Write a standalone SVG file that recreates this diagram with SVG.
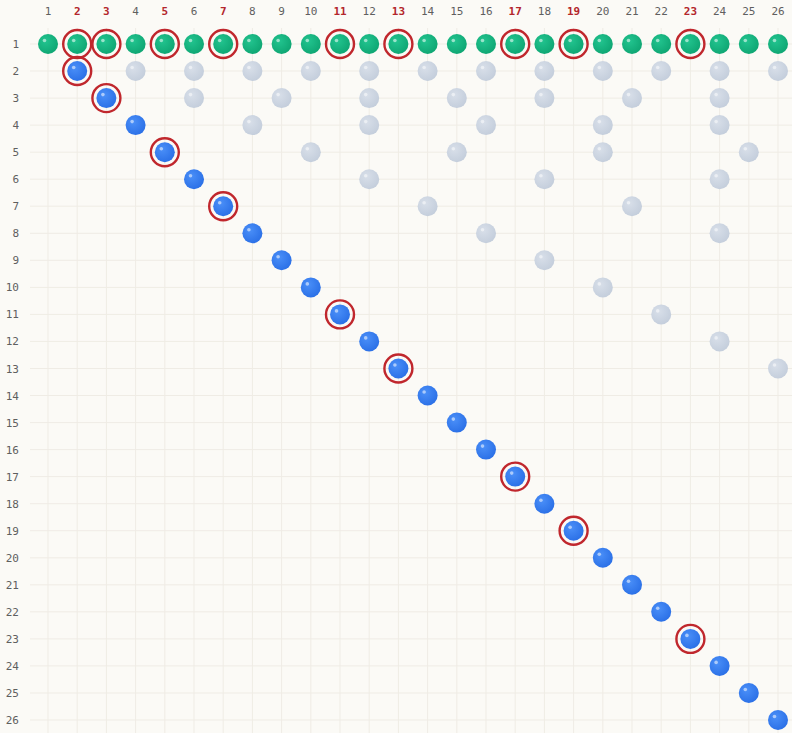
<svg xmlns="http://www.w3.org/2000/svg" xmlns:xlink="http://www.w3.org/1999/xlink" width="792" height="733" viewBox="0 0 792 733">
<defs>
<radialGradient id="gG" cx="0.38" cy="0.35" r="0.7"><stop offset="0" stop-color="#22c48f"/><stop offset="1" stop-color="#0ea572"/></radialGradient>
<radialGradient id="gB" cx="0.38" cy="0.35" r="0.7"><stop offset="0" stop-color="#4a8ff8"/><stop offset="1" stop-color="#2a6fe6"/></radialGradient>
<radialGradient id="gX" cx="0.38" cy="0.35" r="0.7"><stop offset="0" stop-color="#d8dfe9"/><stop offset="1" stop-color="#c3cddb"/></radialGradient>
<g id="dG"><circle r="10" fill="url(#gG)"/><circle cx="-3.5" cy="-3.5" r="1.8" fill="#fff" opacity="0.55"/></g>
<g id="dB"><circle r="10" fill="url(#gB)"/><circle cx="-3.5" cy="-3.5" r="1.8" fill="#fff" opacity="0.55"/></g>
<g id="dX"><circle r="10" fill="url(#gX)"/><circle cx="-3.5" cy="-3.5" r="1.8" fill="#fff" opacity="0.5"/></g>
<circle id="ring" r="14" fill="none" stroke="#c0272d" stroke-width="2.4"/>
</defs>
<style>
.lbl{font-family:"DejaVu Sans Mono","Liberation Mono",monospace;font-size:11px;fill:#5f5f5f}
.hd{text-anchor:middle}
.rw{text-anchor:end}
.pr{fill:#b3262b;font-weight:bold}
.grid line{stroke:#efece5;stroke-width:1}
</style>
<rect width="792" height="733" fill="#fbfaf6"/>
<g id="grid" class="grid">
<line x1="48" y1="28" x2="48" y2="733"/><line x1="77.2" y1="28" x2="77.2" y2="733"/><line x1="106.4" y1="28" x2="106.4" y2="733"/><line x1="135.6" y1="28" x2="135.6" y2="733"/><line x1="164.8" y1="28" x2="164.8" y2="733"/><line x1="194" y1="28" x2="194" y2="733"/><line x1="223.2" y1="28" x2="223.2" y2="733"/><line x1="252.4" y1="28" x2="252.4" y2="733"/><line x1="281.6" y1="28" x2="281.6" y2="733"/><line x1="310.8" y1="28" x2="310.8" y2="733"/><line x1="340" y1="28" x2="340" y2="733"/><line x1="369.2" y1="28" x2="369.2" y2="733"/><line x1="398.4" y1="28" x2="398.4" y2="733"/><line x1="427.6" y1="28" x2="427.6" y2="733"/><line x1="456.8" y1="28" x2="456.8" y2="733"/><line x1="486" y1="28" x2="486" y2="733"/><line x1="515.2" y1="28" x2="515.2" y2="733"/><line x1="544.4" y1="28" x2="544.4" y2="733"/><line x1="573.6" y1="28" x2="573.6" y2="733"/><line x1="602.8" y1="28" x2="602.8" y2="733"/><line x1="632" y1="28" x2="632" y2="733"/><line x1="661.2" y1="28" x2="661.2" y2="733"/><line x1="690.4" y1="28" x2="690.4" y2="733"/><line x1="719.6" y1="28" x2="719.6" y2="733"/><line x1="748.8" y1="28" x2="748.8" y2="733"/><line x1="778" y1="28" x2="778" y2="733"/>
<line x1="30" y1="44" x2="792" y2="44"/><line x1="30" y1="71" x2="792" y2="71"/><line x1="30" y1="98.1" x2="792" y2="98.1"/><line x1="30" y1="125.1" x2="792" y2="125.1"/><line x1="30" y1="152.2" x2="792" y2="152.2"/><line x1="30" y1="179.2" x2="792" y2="179.2"/><line x1="30" y1="206.2" x2="792" y2="206.2"/><line x1="30" y1="233.3" x2="792" y2="233.3"/><line x1="30" y1="260.3" x2="792" y2="260.3"/><line x1="30" y1="287.4" x2="792" y2="287.4"/><line x1="30" y1="314.4" x2="792" y2="314.4"/><line x1="30" y1="341.4" x2="792" y2="341.4"/><line x1="30" y1="368.5" x2="792" y2="368.5"/><line x1="30" y1="395.5" x2="792" y2="395.5"/><line x1="30" y1="422.6" x2="792" y2="422.6"/><line x1="30" y1="449.6" x2="792" y2="449.6"/><line x1="30" y1="476.6" x2="792" y2="476.6"/><line x1="30" y1="503.7" x2="792" y2="503.7"/><line x1="30" y1="530.7" x2="792" y2="530.7"/><line x1="30" y1="557.8" x2="792" y2="557.8"/><line x1="30" y1="584.8" x2="792" y2="584.8"/><line x1="30" y1="611.8" x2="792" y2="611.8"/><line x1="30" y1="638.9" x2="792" y2="638.9"/><line x1="30" y1="665.9" x2="792" y2="665.9"/><line x1="30" y1="693" x2="792" y2="693"/><line x1="30" y1="720" x2="792" y2="720"/>
</g>
<g id="col-labels" class="lbl hd">
<text x="48" y="15">1</text><text x="77.2" y="15" class="pr">2</text><text x="106.4" y="15" class="pr">3</text><text x="135.6" y="15">4</text><text x="164.8" y="15" class="pr">5</text><text x="194" y="15">6</text><text x="223.2" y="15" class="pr">7</text><text x="252.4" y="15">8</text><text x="281.6" y="15">9</text><text x="310.8" y="15">10</text><text x="340" y="15" class="pr">11</text><text x="369.2" y="15">12</text><text x="398.4" y="15" class="pr">13</text><text x="427.6" y="15">14</text><text x="456.8" y="15">15</text><text x="486" y="15">16</text><text x="515.2" y="15" class="pr">17</text><text x="544.4" y="15">18</text><text x="573.6" y="15" class="pr">19</text><text x="602.8" y="15">20</text><text x="632" y="15">21</text><text x="661.2" y="15">22</text><text x="690.4" y="15" class="pr">23</text><text x="719.6" y="15">24</text><text x="748.8" y="15">25</text><text x="778" y="15">26</text>
</g>
<g id="row-labels" class="lbl rw">
<text x="19" y="48">1</text><text x="19" y="75">2</text><text x="19" y="102.1">3</text><text x="19" y="129.1">4</text><text x="19" y="156.2">5</text><text x="19" y="183.2">6</text><text x="19" y="210.2">7</text><text x="19" y="237.3">8</text><text x="19" y="264.3">9</text><text x="19" y="291.4">10</text><text x="19" y="318.4">11</text><text x="19" y="345.4">12</text><text x="19" y="372.5">13</text><text x="19" y="399.5">14</text><text x="19" y="426.6">15</text><text x="19" y="453.6">16</text><text x="19" y="480.6">17</text><text x="19" y="507.7">18</text><text x="19" y="534.7">19</text><text x="19" y="561.8">20</text><text x="19" y="588.8">21</text><text x="19" y="615.8">22</text><text x="19" y="642.9">23</text><text x="19" y="669.9">24</text><text x="19" y="697">25</text><text x="19" y="724">26</text>
</g>
<g id="connectors"></g>
<g id="row1">
<g id="n1-1"><use href="#dG" x="48" y="44"/></g>
<g id="n1-2"><use href="#dG" x="77.2" y="44"/><use href="#ring" x="77.2" y="44"/></g>
<g id="n1-3"><use href="#dG" x="106.4" y="44"/><use href="#ring" x="106.4" y="44"/></g>
<g id="n1-4"><use href="#dG" x="135.6" y="44"/></g>
<g id="n1-5"><use href="#dG" x="164.8" y="44"/><use href="#ring" x="164.8" y="44"/></g>
<g id="n1-6"><use href="#dG" x="194" y="44"/></g>
<g id="n1-7"><use href="#dG" x="223.2" y="44"/><use href="#ring" x="223.2" y="44"/></g>
<g id="n1-8"><use href="#dG" x="252.4" y="44"/></g>
<g id="n1-9"><use href="#dG" x="281.6" y="44"/></g>
<g id="n1-10"><use href="#dG" x="310.8" y="44"/></g>
<g id="n1-11"><use href="#dG" x="340" y="44"/><use href="#ring" x="340" y="44"/></g>
<g id="n1-12"><use href="#dG" x="369.2" y="44"/></g>
<g id="n1-13"><use href="#dG" x="398.4" y="44"/><use href="#ring" x="398.4" y="44"/></g>
<g id="n1-14"><use href="#dG" x="427.6" y="44"/></g>
<g id="n1-15"><use href="#dG" x="456.8" y="44"/></g>
<g id="n1-16"><use href="#dG" x="486" y="44"/></g>
<g id="n1-17"><use href="#dG" x="515.2" y="44"/><use href="#ring" x="515.2" y="44"/></g>
<g id="n1-18"><use href="#dG" x="544.4" y="44"/></g>
<g id="n1-19"><use href="#dG" x="573.6" y="44"/><use href="#ring" x="573.6" y="44"/></g>
<g id="n1-20"><use href="#dG" x="602.8" y="44"/></g>
<g id="n1-21"><use href="#dG" x="632" y="44"/></g>
<g id="n1-22"><use href="#dG" x="661.2" y="44"/></g>
<g id="n1-23"><use href="#dG" x="690.4" y="44"/><use href="#ring" x="690.4" y="44"/></g>
<g id="n1-24"><use href="#dG" x="719.6" y="44"/></g>
<g id="n1-25"><use href="#dG" x="748.8" y="44"/></g>
<g id="n1-26"><use href="#dG" x="778" y="44"/></g>
</g>
<g id="diagonal">
<g id="n2-2"><use href="#dB" x="77.2" y="71"/><use href="#ring" x="77.2" y="71"/></g>
<g id="n3-3"><use href="#dB" x="106.4" y="98.1"/><use href="#ring" x="106.4" y="98.1"/></g>
<g id="n4-4"><use href="#dB" x="135.6" y="125.1"/></g>
<g id="n5-5"><use href="#dB" x="164.8" y="152.2"/><use href="#ring" x="164.8" y="152.2"/></g>
<g id="n6-6"><use href="#dB" x="194" y="179.2"/></g>
<g id="n7-7"><use href="#dB" x="223.2" y="206.2"/><use href="#ring" x="223.2" y="206.2"/></g>
<g id="n8-8"><use href="#dB" x="252.4" y="233.3"/></g>
<g id="n9-9"><use href="#dB" x="281.6" y="260.3"/></g>
<g id="n10-10"><use href="#dB" x="310.8" y="287.4"/></g>
<g id="n11-11"><use href="#dB" x="340" y="314.4"/><use href="#ring" x="340" y="314.4"/></g>
<g id="n12-12"><use href="#dB" x="369.2" y="341.4"/></g>
<g id="n13-13"><use href="#dB" x="398.4" y="368.5"/><use href="#ring" x="398.4" y="368.5"/></g>
<g id="n14-14"><use href="#dB" x="427.6" y="395.5"/></g>
<g id="n15-15"><use href="#dB" x="456.8" y="422.6"/></g>
<g id="n16-16"><use href="#dB" x="486" y="449.6"/></g>
<g id="n17-17"><use href="#dB" x="515.2" y="476.6"/><use href="#ring" x="515.2" y="476.6"/></g>
<g id="n18-18"><use href="#dB" x="544.4" y="503.7"/></g>
<g id="n19-19"><use href="#dB" x="573.6" y="530.7"/><use href="#ring" x="573.6" y="530.7"/></g>
<g id="n20-20"><use href="#dB" x="602.8" y="557.8"/></g>
<g id="n21-21"><use href="#dB" x="632" y="584.8"/></g>
<g id="n22-22"><use href="#dB" x="661.2" y="611.8"/></g>
<g id="n23-23"><use href="#dB" x="690.4" y="638.9"/><use href="#ring" x="690.4" y="638.9"/></g>
<g id="n24-24"><use href="#dB" x="719.6" y="665.9"/></g>
<g id="n25-25"><use href="#dB" x="748.8" y="693"/></g>
<g id="n26-26"><use href="#dB" x="778" y="720"/></g>
</g>
<g id="divisors">
<g id="n2-4"><use href="#dX" x="135.6" y="71"/></g>
<g id="n2-6"><use href="#dX" x="194" y="71"/></g>
<g id="n2-8"><use href="#dX" x="252.4" y="71"/></g>
<g id="n2-10"><use href="#dX" x="310.8" y="71"/></g>
<g id="n2-12"><use href="#dX" x="369.2" y="71"/></g>
<g id="n2-14"><use href="#dX" x="427.6" y="71"/></g>
<g id="n2-16"><use href="#dX" x="486" y="71"/></g>
<g id="n2-18"><use href="#dX" x="544.4" y="71"/></g>
<g id="n2-20"><use href="#dX" x="602.8" y="71"/></g>
<g id="n2-22"><use href="#dX" x="661.2" y="71"/></g>
<g id="n2-24"><use href="#dX" x="719.6" y="71"/></g>
<g id="n2-26"><use href="#dX" x="778" y="71"/></g>
<g id="n3-6"><use href="#dX" x="194" y="98.1"/></g>
<g id="n3-9"><use href="#dX" x="281.6" y="98.1"/></g>
<g id="n3-12"><use href="#dX" x="369.2" y="98.1"/></g>
<g id="n3-15"><use href="#dX" x="456.8" y="98.1"/></g>
<g id="n3-18"><use href="#dX" x="544.4" y="98.1"/></g>
<g id="n3-21"><use href="#dX" x="632" y="98.1"/></g>
<g id="n3-24"><use href="#dX" x="719.6" y="98.1"/></g>
<g id="n4-8"><use href="#dX" x="252.4" y="125.1"/></g>
<g id="n4-12"><use href="#dX" x="369.2" y="125.1"/></g>
<g id="n4-16"><use href="#dX" x="486" y="125.1"/></g>
<g id="n4-20"><use href="#dX" x="602.8" y="125.1"/></g>
<g id="n4-24"><use href="#dX" x="719.6" y="125.1"/></g>
<g id="n5-10"><use href="#dX" x="310.8" y="152.2"/></g>
<g id="n5-15"><use href="#dX" x="456.8" y="152.2"/></g>
<g id="n5-20"><use href="#dX" x="602.8" y="152.2"/></g>
<g id="n5-25"><use href="#dX" x="748.8" y="152.2"/></g>
<g id="n6-12"><use href="#dX" x="369.2" y="179.2"/></g>
<g id="n6-18"><use href="#dX" x="544.4" y="179.2"/></g>
<g id="n6-24"><use href="#dX" x="719.6" y="179.2"/></g>
<g id="n7-14"><use href="#dX" x="427.6" y="206.2"/></g>
<g id="n7-21"><use href="#dX" x="632" y="206.2"/></g>
<g id="n8-16"><use href="#dX" x="486" y="233.3"/></g>
<g id="n8-24"><use href="#dX" x="719.6" y="233.3"/></g>
<g id="n9-18"><use href="#dX" x="544.4" y="260.3"/></g>
<g id="n10-20"><use href="#dX" x="602.8" y="287.4"/></g>
<g id="n11-22"><use href="#dX" x="661.2" y="314.4"/></g>
<g id="n12-24"><use href="#dX" x="719.6" y="341.4"/></g>
<g id="n13-26"><use href="#dX" x="778" y="368.5"/></g>
</g>
</svg>
